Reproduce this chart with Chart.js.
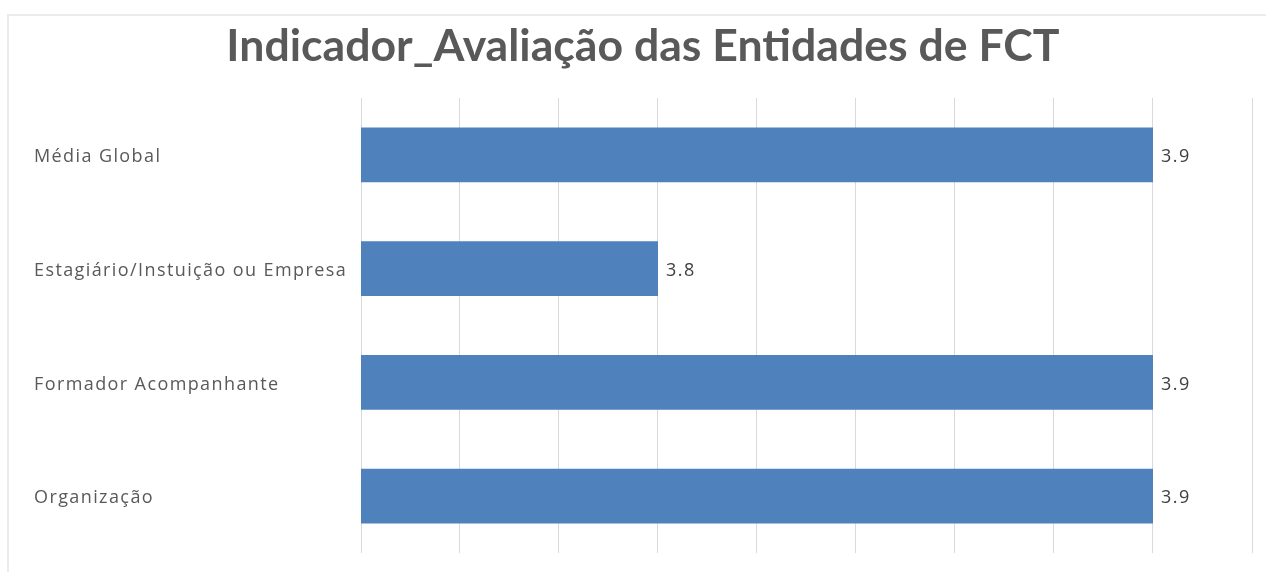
<!DOCTYPE html>
<html>
<head>
<meta charset="utf-8">
<script src="https://cdn.jsdelivr.net/npm/chart.js@4/dist/chart.umd.min.js"></script>
<style>
  html, body { margin: 0; padding: 0; background: #ffffff; }
  #wrap { position: relative; width: 1266px; height: 572px; overflow: hidden; }
  #frame { position: absolute; left: 7px; top: 14px; width: 1300px; height: 700px;
           border-top: 2px solid #ebebeb; border-left: 2px solid #ebebeb; box-sizing: border-box; }
  canvas { position: absolute; left: 0; top: 0; }
</style>
</head>
<body>
<div id="wrap">
  <div id="frame"></div>
  <canvas id="c" width="1266" height="572"></canvas>
</div>
<script>
const titleText = 'Indicador_Avaliação das Entidades de FCT';
const categories = ['Média Global', 'Estagiário/Instuição ou Empresa', 'Formador Acompanhante', 'Organização'];
const values = [3.9, 3.8, 3.9, 3.9];
const valueLabels = ['3.9', '3.8', '3.9', '3.9'];
const axisMin = 3.74;
const axisMax = 3.92;
const axisStep = 0.02;

const spacedLabelsPlugin = {
  id: 'spacedLabels',
  afterLayout(chart) {
    const scale = chart.scales.y;
    if (scale && !scale._spacedWrapped) {
      const orig = scale.drawLabels;
      scale.drawLabels = function (area) {
        const ctx = this.ctx;
        ctx.save();
        ctx.letterSpacing = '1.4px';
        ctx.translate(0, 2);
        orig.call(this, area);
        ctx.restore();
      };
      scale._spacedWrapped = true;
    }
  }
};

const valueLabelPlugin = {
  id: 'valueLabels',
  afterDatasetsDraw(chart) {
    const ctx = chart.ctx;
    const meta = chart.getDatasetMeta(0);
    ctx.save();
    ctx.font = '18px "Open Sans"';
    ctx.letterSpacing = '1.5px';
    ctx.fillStyle = '#404040';
    ctx.textAlign = 'left';
    ctx.textBaseline = 'middle';
    meta.data.forEach((bar, i) => {
      ctx.fillText(valueLabels[i], bar.x + 8, bar.y + 2);
    });
    ctx.restore();
  }
};

new Chart(document.getElementById('c'), {
  type: 'bar',
  data: {
    labels: categories,
    datasets: [{
      data: values,
      backgroundColor: '#4f81bd',
      borderWidth: 0,
      barPercentage: 0.48,
      categoryPercentage: 1.0
    }]
  },
  options: {
    indexAxis: 'y',
    responsive: false,
    animation: false,
    events: [],
    layout: { padding: { left: 34, right: 14, top: 0, bottom: 19 } },
    plugins: {
      legend: { display: false },
      tooltip: { enabled: false },
      title: {
        display: true,
        text: titleText,
        color: '#595959',
        font: { family: 'Lato', size: 44.6, weight: 'bold', lineHeight: 1.2 },
        padding: { top: 20.2, bottom: 24.3 }
      }
    },
    scales: {
      x: {
        min: axisMin,
        max: axisMax,
        ticks: { display: false, stepSize: axisStep },
        grid: { color: '#d9d9d9', lineWidth: 1, drawTicks: false },
        border: { display: false }
      },
      y: {
        ticks: {
          crossAlign: 'far',
          color: '#595959',
          font: { family: 'Open Sans', size: 18 }
        },
        grid: { display: false, drawTicks: false },
        border: { display: false },
        afterFit(scale) { scale.width = 327; }
      }
    }
  },
  plugins: [spacedLabelsPlugin, valueLabelPlugin]
});
</script>
</body>
</html>
